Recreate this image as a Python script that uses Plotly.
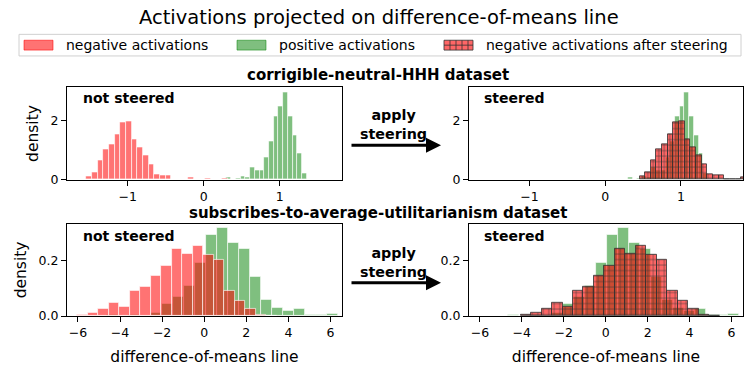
import numpy as np
import plotly.graph_objects as go

W, H = 756, 382

# corrigible-neutral-HHH dataset (25 bins each, density)
hhh_neg_start, hhh_neg_step = -1.509, 0.0746
hhh_neg_density = [0.11, 0.23, 0.64, 1.03, 1.19, 1.54, 1.93, 1.97, 1.37, 1.08, 0.81, 0.53, 0.19,
                   0.14, 0.15, 0, 0, 0, 0.08, 0, 0, 0.04, 0, 0, 0.04]
hhh_pos_start, hhh_pos_step = -0.169, 0.0623
hhh_pos_density = [0.02, 0, 0, 0.02, 0, 0, 0, 0, 0.07, 0, 0.03, 0.10, 0.07, 0.42, 0.32, 0.32,
                   0.74, 1.30, 2.13, 2.46, 2.94, 2.13, 1.49, 0.87, 0.20]
hhh_steered_start = 0.49

# subscribes-to-average-utilitarianism dataset
util_neg_start, util_neg_step = -5.79, 0.5
util_neg_density = [0.005, 0.012, 0.026, 0.048, 0.035, 0.092, 0.107, 0.144, 0.183, 0.244, 0.227,
                    0.255, 0.223, 0.202, 0.090, 0.055, 0.026, 0.003, 0.002]
util_pos_start, util_pos_step = -4.38, 0.524
util_pos_density = [0.003, 0, 0.006, 0.002, 0.011, 0.045, 0.068, 0.110, 0.193, 0.293, 0.320,
                    0.266, 0.242, 0.142, 0.058, 0.031, 0.018, 0.028, 0.005, 0.005, 0.008]
util_steered_start = -3.81

top_xticks = [-1, 0, 1]
bottom_xticks = [-6, -4, -2, 0, 2, 4, 6]

RED = "rgba(255,0,0,0.55)"
GREEN = "rgba(0,128,0,0.5)"
STEER_RED = "rgba(255,0,0,0.6)"
HATCH = "rgba(50,50,50,0.8)"
FONT = "DejaVu Sans"


def px(x):
    return x / W


def py(y):
    return 1 - y / H


def centers(start, step, n):
    return start + step * np.arange(n)


def hist_bar(start, step, dens, color, xa, ya, steered=False):
    marker = {"color": color, "line": {"color": "rgba(255,255,255,0.8)", "width": 0.8}}
    if steered:
        marker = {
            "color": STEER_RED,
            "line": {"color": HATCH, "width": 1},
            "pattern": {"shape": "+", "fgcolor": HATCH, "bgcolor": STEER_RED,
                        "size": 5.5, "solidity": 0.22, "fillmode": "replace"},
        }
    return go.Bar(x=centers(start, step, len(dens)), y=dens, width=step, marker=marker,
                  xaxis=xa, yaxis=ya, showlegend=False)


fig = go.Figure()
# top row
fig.add_trace(hist_bar(hhh_pos_start, hhh_pos_step, hhh_pos_density, GREEN, "x", "y"))
fig.add_trace(hist_bar(hhh_neg_start, hhh_neg_step, hhh_neg_density, RED, "x", "y"))
fig.add_trace(hist_bar(hhh_pos_start, hhh_pos_step, hhh_pos_density, GREEN, "x2", "y2"))
fig.add_trace(hist_bar(hhh_steered_start, hhh_neg_step, hhh_neg_density, RED, "x2", "y2", True))
# bottom row
fig.add_trace(hist_bar(util_pos_start, util_pos_step, util_pos_density, GREEN, "x3", "y3"))
fig.add_trace(hist_bar(util_neg_start, util_neg_step, util_neg_density, RED, "x3", "y3"))
fig.add_trace(hist_bar(util_pos_start, util_pos_step, util_pos_density, GREEN, "x4", "y4"))
fig.add_trace(hist_bar(util_steered_start, util_neg_step, util_neg_density, RED, "x4", "y4", True))

left_dom = [px(67), px(342)]
right_dom = [px(469), px(743)]
top_dom = [py(183), py(89)]
bot_dom = [py(322), py(228)]

axis_common = dict(showline=True, linecolor="black", linewidth=1.2, mirror=True, ticks="outside",
                   ticklen=5, tickwidth=1, tickcolor="black", showgrid=False, zeroline=False,
                   tickfont=dict(size=12.5, color="black"))


def xaxis(dom, rng, ticks, anchor):
    return dict(axis_common, domain=dom, range=rng, anchor=anchor, tickvals=ticks,
                ticktext=[str(t).replace("-", "\u2212") for t in ticks])


def yaxis(dom, rng, ticks, text, anchor):
    return dict(axis_common, domain=dom, range=rng, anchor=anchor, tickvals=ticks, ticktext=text)


fig.update_layout(
    width=W, height=H, margin=dict(l=0, r=0, t=0, b=0),
    paper_bgcolor="white", plot_bgcolor="white", barmode="overlay", bargap=0,
    font=dict(family=FONT, color="black", size=13),
    xaxis=xaxis(left_dom, [-1.8, 1.82], top_xticks, "y"),
    yaxis=dict(yaxis(top_dom, [0, 3.11], [0, 2], ["0", "2"], "x"),
               title=dict(text="density", font=dict(size=15.5), standoff=8)),
    xaxis2=xaxis(right_dom, [-1.8, 1.82], top_xticks, "y2"),
    yaxis2=yaxis(top_dom, [0, 3.11], [0, 2], ["0", "2"], "x2"),
    xaxis3=dict(xaxis(left_dom, [-6.52, 6.55], bottom_xticks, "y3"),
                title=dict(text="difference-of-means line", font=dict(size=15.5), standoff=11)),
    yaxis3=dict(yaxis(bot_dom, [0, 0.334], [0, 0.2], ["0.0", "0.2"], "x3"),
                title=dict(text="density", font=dict(size=15.5), standoff=8)),
    xaxis4=dict(xaxis(right_dom, [-6.52, 6.55], bottom_xticks, "y4"),
                title=dict(text="difference-of-means line", font=dict(size=15.5), standoff=11)),
    yaxis4=yaxis(bot_dom, [0, 0.334], [0, 0.2], ["0.0", "0.2"], "x4"),
)


def note(text, x, y, size, xanchor="center", **kw):
    return dict(text=text, x=px(x), y=py(y), xref="paper", yref="paper", showarrow=False,
                xanchor=xanchor, yanchor="middle", font=dict(size=size), **kw)


ann = [
    note("Activations projected on difference-of-means line", 379, 18, 19.5),
    note("<b>corrigible-neutral-HHH dataset</b>", 378, 76, 15),
    note("<b>subscribes-to-average-utilitarianism dataset</b>", 378, 216.5, 15),
]
for off in (0, 140):
    ann.append(note("<b>not steered</b>", 81, 100 + off, 14, "left"))
    ann.append(note("<b>steered</b>", 482, 100 + off, 14, "left"))
    ann.append(note("<b>apply<br>steering</b>", 393, 127 + off, 14.3))
    ann.append(dict(text="", x=px(441), y=py(148 + off), ax=-91, ay=0, xref="paper", yref="paper",
                    showarrow=True, arrowhead=2, arrowsize=1, arrowwidth=3, arrowcolor="black"))

# legend drawn by hand so the patches keep matplotlib's wide shape
shapes = [dict(type="rect", xref="paper", yref="paper", x0=px(19), x1=px(741), y0=py(35), y1=py(57),
               line=dict(color="#d0d0d0", width=1), fillcolor="white")]
legend_items = [(24, "negative activations", RED), (237, "positive activations", GREEN),
                (444, "negative activations after steering", None)]
for x0, label, color in legend_items:
    if color is None:
        shapes.append(dict(type="rect", xref="paper", yref="paper", x0=px(x0), x1=px(x0 + 29),
                           y0=py(51), y1=py(41), fillcolor=STEER_RED, line=dict(color=HATCH, width=1)))
        for hx in (x0 + 6, x0 + 12, x0 + 18, x0 + 24):
            shapes.append(dict(type="line", xref="paper", yref="paper", x0=px(hx), x1=px(hx),
                               y0=py(51), y1=py(41), line=dict(color=HATCH, width=1)))
        shapes.append(dict(type="line", xref="paper", yref="paper", x0=px(x0), x1=px(x0 + 29),
                           y0=py(46), y1=py(46), line=dict(color=HATCH, width=1)))
    else:
        shapes.append(dict(type="rect", xref="paper", yref="paper", x0=px(x0), x1=px(x0 + 29),
                           y0=py(51), y1=py(41), fillcolor=color, line=dict(color=color, width=1)))
    ann.append(note(label, x0 + 40, 46, 14, "left"))

fig.update_layout(annotations=ann, shapes=shapes)
fig.write_html("out.html", config={"displayModeBar": False},
               post_script="document.body.style.margin = '0';")
